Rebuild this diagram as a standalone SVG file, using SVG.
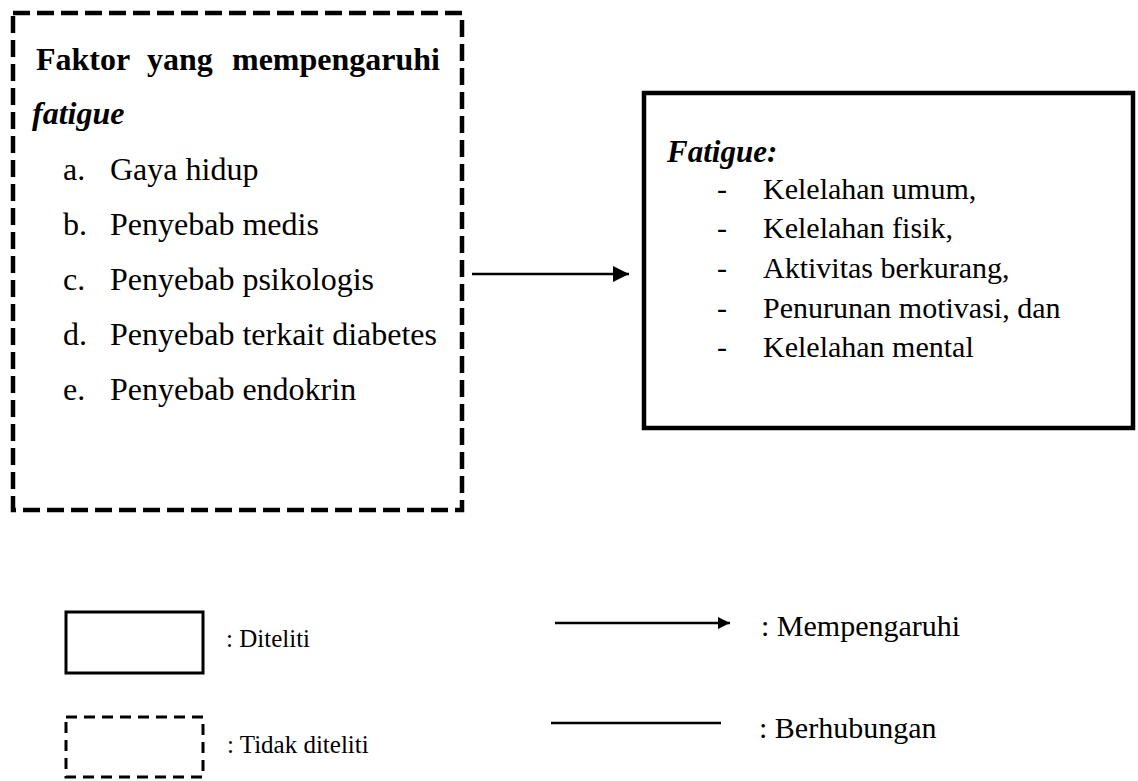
<svg xmlns="http://www.w3.org/2000/svg" width="1138" height="781" viewBox="0 0 1138 781">
<style>
  .t { font-family: "Liberation Serif", "Times New Roman", serif; fill: #000; }
  .dash { fill: none; stroke: #000; stroke-width: 4.5; stroke-dasharray: 17 7; }
  .solid { fill: none; stroke: #000; stroke-width: 4.5; }
  .ln { stroke: #000; stroke-width: 2.5; fill: none; }
</style>
<defs>
  <marker id="ah" viewBox="0 0 10 10" refX="10" refY="5" markerWidth="16" markerHeight="16" markerUnits="userSpaceOnUse" orient="auto">
    <path d="M0,0 L10,5 L0,10 z" fill="#000"/>
  </marker>
  <marker id="ahL" viewBox="0 0 10 10" refX="10" refY="5" markerWidth="12" markerHeight="13" markerUnits="userSpaceOnUse" orient="auto">
    <path d="M0,0 L10,5 L0,10 z" fill="#000"/>
  </marker>
</defs>
<rect width="1138" height="781" fill="#fff"/>

<g id="faktor">
  <rect class="dash" x="13" y="13" width="449" height="497"/>
  <text class="t" font-size="32" font-weight="bold" x="36" y="70">Faktor</text>
  <text class="t" font-size="32" font-weight="bold" x="147" y="70">yang</text>
  <text class="t" font-size="32" font-weight="bold" x="440" y="70" text-anchor="end">mempengaruhi</text>
  <text class="t" font-size="32" font-weight="bold" font-style="italic" x="32" y="124">fatigue</text>
  <g font-size="32">
    <text class="t" x="63" y="180">a.</text><text class="t" x="110" y="180">Gaya hidup</text>
    <text class="t" x="63" y="235">b.</text><text class="t" x="110" y="235">Penyebab medis</text>
    <text class="t" x="63" y="290">c.</text><text class="t" x="110" y="290">Penyebab psikologis</text>
    <text class="t" x="63" y="345">d.</text><text class="t" x="110" y="345">Penyebab terkait diabetes</text>
    <text class="t" x="63" y="400">e.</text><text class="t" x="110" y="400">Penyebab endokrin</text>
  </g>
</g>

<g id="fatigue">
  <rect class="solid" x="644" y="93" width="489" height="335"/>
  <text class="t" font-size="31" font-weight="bold" font-style="italic" x="667" y="162">Fatigue:</text>
  <g font-size="30">
    <text class="t" x="717" y="199">-</text><text class="t" x="763" y="199">Kelelahan umum,</text>
    <text class="t" x="717" y="238">-</text><text class="t" x="763" y="238">Kelelahan fisik,</text>
    <text class="t" x="717" y="278">-</text><text class="t" x="763" y="278">Aktivitas berkurang,</text>
    <text class="t" x="717" y="318">-</text><text class="t" x="763" y="318">Penurunan motivasi, dan</text>
    <text class="t" x="717" y="357">-</text><text class="t" x="763" y="357">Kelelahan mental</text>
  </g>
</g>

<g id="connectors">
  <line class="ln" x1="472" y1="274" x2="629" y2="274" marker-end="url(#ah)"/>
</g>

<g id="legend">
  <rect x="66" y="612" width="137" height="61" fill="none" stroke="#000" stroke-width="3"/>
  <text class="t" font-size="25" x="226" y="647">: Diteliti</text>
  <rect x="66" y="717" width="137" height="60" fill="none" stroke="#000" stroke-width="3" stroke-dasharray="11 7"/>
  <text class="t" font-size="25" x="227" y="753">: Tidak diteliti</text>
  <line class="ln" x1="555" y1="623" x2="730" y2="623" stroke-width="2" marker-end="url(#ahL)"/>
  <text class="t" font-size="30" x="761" y="636">: Mempengaruhi</text>
  <line class="ln" x1="551" y1="723" x2="721" y2="723" stroke-width="2"/>
  <text class="t" font-size="30" x="759" y="738">: Berhubungan</text>
</g>
</svg>
